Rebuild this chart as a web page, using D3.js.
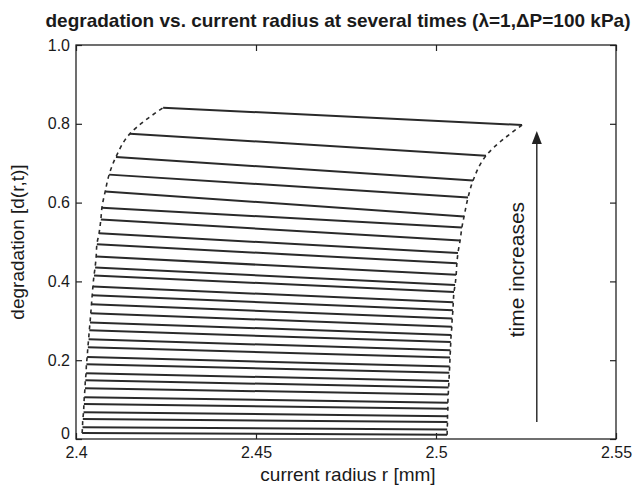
<!DOCTYPE html>
<html>
<head>
<meta charset="utf-8">
<script src="https://cdn.jsdelivr.net/npm/d3@7"></script>
<style>
  body { margin: 0; background: #fff; }
  text { font-family: "Liberation Sans", Arial, sans-serif; fill: #1a1a1a; }
</style>
</head>
<body>
<svg id="plot" width="637" height="490"></svg>
<script>
// one line per time step, read top to bottom
const leftR = [2.4242, 2.4150, 2.4111, 2.4092, 2.4081, 2.4072, 2.4069, 2.4064, 2.4058, 2.4056, 2.4053,
               2.4050, 2.4047, 2.4045, 2.4043, 2.4041, 2.4039, 2.4037, 2.4035, 2.4033, 2.4031,
               2.4029, 2.4028, 2.4026, 2.4025, 2.4023, 2.4022, 2.4021, 2.4019, 2.4018, 2.4017];
const leftD = [0.841, 0.775, 0.716, 0.671, 0.628, 0.587, 0.557, 0.522, 0.494, 0.463, 0.435,
               0.415, 0.387, 0.365, 0.342, 0.319, 0.296, 0.276, 0.253, 0.233, 0.208,
               0.190, 0.167, 0.149, 0.129, 0.106, 0.089, 0.068, 0.051, 0.030, 0.015];
const rightR = [2.5239, 2.5139, 2.5103, 2.5089, 2.5078, 2.5072, 2.5067, 2.5061, 2.5058, 2.5056, 2.5053,
                2.5050, 2.5048, 2.5047, 2.5045, 2.5044, 2.5042, 2.5041, 2.5040, 2.5039, 2.5038,
                2.5037, 2.5036, 2.5035, 2.5034, 2.5033, 2.5033, 2.5032, 2.5032, 2.5031, 2.5031];
const rightD = [0.797, 0.719, 0.656, 0.613, 0.565, 0.537, 0.504, 0.472, 0.446, 0.417, 0.391,
                0.373, 0.347, 0.327, 0.306, 0.285, 0.264, 0.246, 0.225, 0.207, 0.184,
                0.168, 0.147, 0.131, 0.113, 0.092, 0.077, 0.058, 0.043, 0.024, 0.011];

const xTicks = [2.4, 2.45, 2.5, 2.55];
const xTickLabels = ['2.4', '2.45', '2.5', '2.55'];
const yTicks = [0, 0.2, 0.4, 0.6, 0.8, 1.0];
const yTickLabels = ['0', '0.2', '0.4', '0.6', '0.8', '1.0'];

const arrowR = 2.528;
const arrowD = [0.043, 0.782];

let svg = d3.select('#plot'),
    margin = {top: 45, right: 21, bottom: 51, left: 76},
    width = +svg.attr('width') - margin.left - margin.right,
    height = +svg.attr('height') - margin.top - margin.bottom;

let x = d3.scaleLinear().domain([2.4, 2.55]).range([0, width]),
    y = d3.scaleLinear().domain([0, 1]).range([height, 0]);

let g = svg.append('g')
    .attr('transform', 'translate(' + margin.left + ',' + margin.top + ')');

svg.append('text')
    .attr('x', 338).attr('y', 27)
    .attr('text-anchor', 'middle')
    .style('font-size', '19px').style('font-weight', 'bold')
    .text('degradation vs. current radius at several times (\u03bb=1,\u0394P=100 kPa)');

// axes, MATLAB style: ticks inward on all sides
let axisStyle = sel => {
    sel.select('.domain').remove();
    sel.selectAll('line').attr('stroke', '#222').attr('stroke-width', 1.2);
    sel.selectAll('text').style('font-size', '16px').style('font-family', '"Liberation Sans", Arial, sans-serif').attr('fill', '#1a1a1a');
};

g.append('g')
    .attr('transform', 'translate(0,' + height + ')')
    .call(d3.axisBottom(x).tickValues(xTicks).tickFormat((d, i) => xTickLabels[i])
        .tickSizeInner(-6).tickSizeOuter(0).tickPadding(8))
    .call(axisStyle);
g.append('g')
    .call(d3.axisTop(x).tickValues(xTicks).tickFormat('').tickSizeInner(-6).tickSizeOuter(0))
    .call(axisStyle);
let yAxis = g.append('g')
    .call(d3.axisLeft(y).tickValues(yTicks).tickFormat((d, i) => yTickLabels[i])
        .tickSizeInner(-6).tickSizeOuter(0).tickPadding(6))
    .call(axisStyle);
// the 0 label sits a little above the corner, clear of 2.4
yAxis.selectAll('.tick text').filter(d => d === 0).attr('dy', '-0.05em');
g.append('g')
    .attr('transform', 'translate(' + width + ',0)')
    .call(d3.axisRight(y).tickValues(yTicks).tickFormat('').tickSizeInner(-6).tickSizeOuter(0))
    .call(axisStyle);

g.append('rect')
    .attr('width', width).attr('height', height)
    .attr('fill', 'none').attr('stroke', '#222').attr('stroke-width', 1.3);

// curves
let lines = leftR.map((r, i) => [[r, leftD[i]], [rightR[i], rightD[i]]]);
let line = d3.line().x(d => x(d[0])).y(d => y(d[1]));

g.selectAll('.curve')
    .data(lines)
    .enter()
    .append('path')
    .attr('class', 'curve')
    .attr('d', line)
    .attr('fill', 'none')
    .attr('stroke', '#2a2a2a')
    .attr('stroke-width', 2);

// dashed boundaries through the ends
let bound = d3.line().x(d => x(d[0])).y(d => y(d[1])).curve(d3.curveMonotoneY);
g.append('path')
    .datum(leftR.map((r, i) => [r, leftD[i]]).reverse())
    .attr('d', bound)
    .attr('fill', 'none').attr('stroke', '#2a2a2a').attr('stroke-width', 1.6)
    .attr('stroke-dasharray', '4,4');
g.append('path')
    .datum(rightR.map((r, i) => [r, rightD[i]]).reverse())
    .attr('d', bound)
    .attr('fill', 'none').attr('stroke', '#2a2a2a').attr('stroke-width', 1.6)
    .attr('stroke-dasharray', '4,4');

// arrow
g.append('line')
    .attr('x1', x(arrowR)).attr('x2', x(arrowR))
    .attr('y1', y(arrowD[0])).attr('y2', y(arrowD[1]) + 10)
    .attr('stroke', '#222').attr('stroke-width', 1.4);
g.append('path')
    .attr('d', 'M' + x(arrowR) + ',' + y(arrowD[1]) + 'l-5,13h10z')
    .attr('fill', '#222');

g.append('text')
    .attr('transform', 'translate(' + (x(arrowR) - 13) + ',' + y(0.43) + ') rotate(-90)')
    .attr('text-anchor', 'middle')
    .style('font-size', '21px')
    .text('time increases');

svg.append('text')
    .attr('x', 348).attr('y', 481)
    .attr('text-anchor', 'middle')
    .style('font-size', '19px')
    .text('current radius r [mm]');

svg.append('text')
    .attr('transform', 'translate(24,' + (margin.top + height / 2) + ') rotate(-90)')
    .attr('text-anchor', 'middle')
    .style('font-size', '19px')
    .text('degradation [d(r,t)]');
</script>
</body>
</html>
